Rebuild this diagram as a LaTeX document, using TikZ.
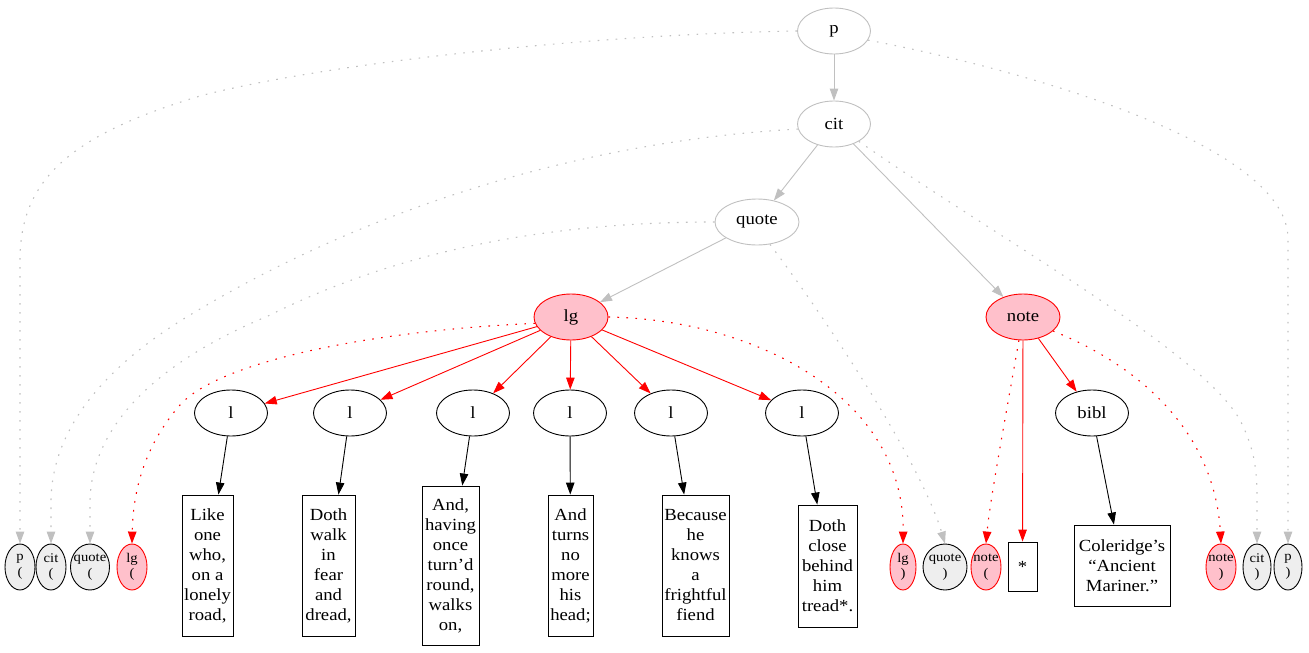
\documentclass[tikz,border=0pt]{standalone}
\usepackage{fontspec}
\setmainfont{Liberation Serif}[FakeStretch=1.1]
\usetikzlibrary{shapes.geometric,arrows.meta}
\definecolor{gry}{HTML}{C0C0C0}
\definecolor{pnk}{HTML}{FFC0CB}
\definecolor{lgr}{HTML}{EEEEEE}
\newcommand\bigf{\fontsize{17}{20}\selectfont}
\newcommand\smf{\fontsize{13.3}{15.5}\selectfont}
\newcommand\twol[2]{\makebox[0pt]{#1}\\\makebox[0pt]{#2}}
\begin{document}
\begin{tikzpicture}[x=1pt,y=-1pt,
 base/.style={inner sep=0pt, line width=0.9pt, font=\bigf, align=center},
 gnode/.style={base, ellipse, draw=gry, fill=white, minimum width=73pt, minimum height=46pt},
 rnode/.style={base, ellipse, draw=red, fill=pnk, minimum width=74pt, minimum height=46pt},
 bnode/.style={base, ellipse, draw=black, fill=white, minimum width=73pt, minimum height=46pt},
 tbox/.style={base, rectangle, draw=black, fill=white},
 sgn/.style={base, font=\smf, ellipse, draw=black, fill=lgr, minimum height=46pt},
 srn/.style={base, font=\smf, ellipse, draw=red, fill=pnk, minimum height=46pt},
 tip/.style={-{Triangle[length=12pt,width=8.5pt]}},
 gedge/.style={tip, draw=gry, line width=0.9pt},
 redge/.style={tip, draw=red, line width=0.9pt},
 kedge/.style={tip, draw=black, line width=0.9pt},
 dotty/.style={line width=1.1pt, dash pattern=on 1.6pt off 7.4pt},
]
\useasboundingbox (0,0) rectangle (1309,653);
% main nodes
\node[gnode] (p) at (834,31) {p};
\node[gnode] (cit) at (834,124) {cit};
\node[gnode, minimum width=84pt] (quote) at (757,222) {quote};
\node[rnode] (lg) at (571,317) {lg};
\node[rnode] (note) at (1023,317) {note};
\node[bnode] (l1) at (231,413) {l};
\node[bnode] (l2) at (350,413) {l};
\node[bnode] (l3) at (473,413) {l};
\node[bnode] (l4) at (570,413) {l};
\node[bnode] (l5) at (671,413) {l};
\node[bnode] (l6) at (802,413) {l};
\node[bnode] (bibl) at (1092,413) {bibl};
% text boxes
\node[tbox, minimum width=51pt, minimum height=141pt] (t1) at (207.5,565.5) {Like\\one\\who,\\on a\\lonely\\road,};
\node[tbox, minimum width=53pt, minimum height=141pt] (t2) at (328.5,565.5) {Doth\\walk\\in\\fear\\and\\dread,};
\node[tbox, minimum width=57pt, minimum height=159pt] (t3) at (450.5,565.5) {And,\\having\\once\\turn’d\\round,\\walks\\on,};
\node[tbox, minimum width=45pt, minimum height=141pt] (t4) at (570.5,565.5) {And\\turns\\no\\more\\his\\head;};
\node[tbox, minimum width=67pt, minimum height=141pt] (t5) at (695.5,565.5) {Because\\he\\knows\\a\\frightful\\fiend};
\node[tbox, minimum width=59pt, minimum height=122pt] (t6) at (827.5,566) {Doth\\close\\behind\\him\\tread*.};
\node[tbox, minimum width=29pt, minimum height=49pt] (star) at (1022.5,566.5) {*};
\node[tbox, minimum width=96pt, minimum height=81pt] (t8) at (1122,565.5) {Coleridge’s\\“Ancient\\Mariner.”};
% small nodes
\node[sgn, minimum width=30pt] (p1) at (20,567) {\twol{p}{(}};
\node[sgn, minimum width=30pt] (c1) at (51,567) {\twol{cit}{(}};
\node[sgn, minimum width=39pt] (q1) at (90,567) {\twol{quote}{(}};
\node[srn, minimum width=30pt] (lg1) at (132,567) {\twol{lg}{(}};
\node[srn, minimum width=26pt] (lg2) at (903,567) {\twol{lg}{)}};
\node[sgn, minimum width=44pt] (q2) at (945,567) {\twol{quote}{)}};
\node[srn, minimum width=30pt] (n1) at (986,567) {\twol{note}{(}};
\node[srn, minimum width=30pt] (n2) at (1221,567) {\twol{note}{)}};
\node[sgn, minimum width=28pt] (c2) at (1257,567) {\twol{cit}{)}};
\node[sgn, minimum width=28pt] (p2) at (1288,567) {\twol{p}{)}};
% solid edges
\draw[gedge] (p) -- (cit);
\draw[gedge] (cit) -- (quote);
\draw[gedge] (cit) -- (note);
\draw[gedge] (quote) -- (lg);
\foreach \k in {l1,l2,l3,l4,l5,l6} \draw[redge] (lg) -- (\k);
\draw[kedge] (l1) -- (t1);
\draw[kedge] (l2) -- (t2);
\draw[kedge] (l3) -- (t3);
\draw[kedge] (l4) -- (t4);
\draw[kedge] (l5) -- (t5);
\draw[kedge] (l6) -- (t6);
\draw[redge] (note) -- (star);
\draw[redge] (note) -- (bibl);
\draw[kedge] (bibl) -- (t8);
% dotted edges
\draw[gedge, dotty] (p.west) .. controls (600,34) and (330,62) .. (200,96) .. controls (70,135) and (20,180) .. (20,260) -- (p1.north);
\draw[gedge, dotty] (cit.188) .. controls (600,140) and (380,200) .. (190,315) .. controls (90,375) and (52,440) .. (51,500) -- (c1.north);
\draw[gedge, dotty] (quote.west) .. controls (550,222) and (400,250) .. (268,316) .. controls (150,365) and (92,430) .. (90,500) -- (q1.north);
\draw[gedge, dotty] (cit.-35) .. controls (1000,240) and (1200,350) .. (1240,420) .. controls (1255,450) and (1257,470) .. (1257,500) -- (c2.north);
\draw[gedge, dotty] (p.-15) .. controls (1050,75) and (1290,150) .. (1288,240) -- (p2.north);
\draw[gedge, dotty] (quote.-60) .. controls (820,310) and (920,460) .. (q2.north);
\draw[redge, dotty] (lg.190) .. controls (380,330) and (220,360) .. (180,405) .. controls (145,445) and (133,490) .. (lg1.north);
\draw[redge, dotty] (lg.east) .. controls (760,320) and (905,400) .. (lg2.north);
\draw[redge, dotty] (note.-100) .. controls (1005,420) and (990,500) .. (n1.north);
\draw[redge, dotty] (note.-25) .. controls (1150,370) and (1215,440) .. (n2.north);
\end{tikzpicture}
\end{document}
